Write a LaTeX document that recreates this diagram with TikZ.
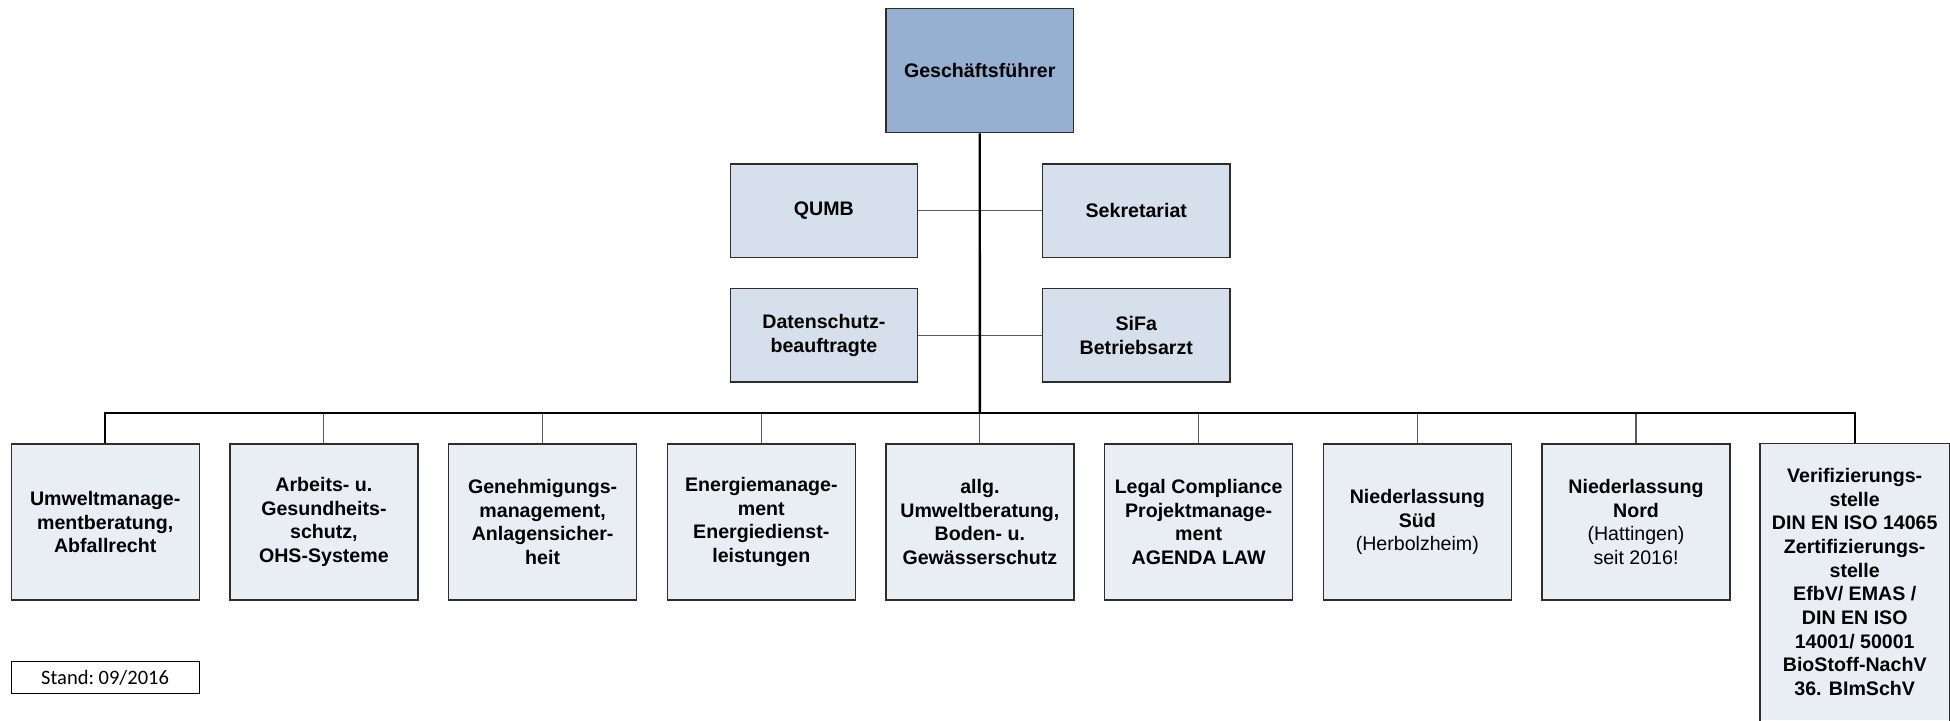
\documentclass[tikz,border=0pt]{standalone}
\usepackage{fontspec}
\setmainfont{Liberation Sans}
\newfontfamily\calibrifont{Carlito}
\definecolor{gfblue}{RGB}{149,176,208}
\definecolor{midblue}{RGB}{214,223,236}
\definecolor{lowblue}{RGB}{233,238,245}
\definecolor{edge}{RGB}{45,45,45}
\definecolor{connc}{RGB}{90,90,90}
\tikzset{
  orgbox/.style={draw=edge, line width=1.3pt, inner sep=0pt, align=center,
    font=\fontsize{19.6}{23.7}\selectfont\bfseries},
  gfbox/.style={orgbox, fill=gfblue, minimum width=187.6pt, minimum height=124.4pt},
  midbox/.style={orgbox, fill=midblue, minimum width=187.4pt, minimum height=93.3pt},
  lowbox/.style={orgbox, fill=lowblue, minimum width=188pt, minimum height=156pt},
  trunkline/.style={line width=2.4pt, black},
  conn/.style={line width=1.1pt, connc},
  staffline/.style={line width=1.1pt, connc},
}
\begin{document}
\begin{tikzpicture}[x=1pt,y=-1pt]
\useasboundingbox (0,0) rectangle (1950,720);
\fill[white] (0,0) rectangle (1950,720);

\node[gfbox] (gf) at (979.7,70.5) {Geschäftsführer};
\node[midbox] (qumb) at (823.9,210.7) {QUMB};
\node[midbox] (sek) at (1136.3,210.7) {Sekretariat};
\node[midbox] (ds) at (823.9,335.2) {Datenschutz-\\beauftragte};
\node[midbox] (sifa) at (1136.3,335.2) {SiFa\\Betriebsarzt};

\coordinate (jn) at (979.9,413);

\draw[staffline] (qumb.east) -- (sek.west);
\draw[staffline] (ds.east) -- (sifa.west);

\node[lowbox] (b1) at (105.2,522) {Umweltmanage-\\mentberatung,\\Abfallrecht};
\node[lowbox] (b2) at (323.9,522) {Arbeits- u.\\Gesundheits-\\schutz,\\OHS-Systeme};
\node[lowbox] (b3) at (542.6,522) {Genehmigungs-\\management,\\Anlagensicher-\\heit};
\node[lowbox] (b4) at (761.3,522) {Energiemanage-\\ment\\Energiedienst-\\leistungen};
\node[lowbox] (b5) at (979.9,522) {allg.\\Umweltberatung,\\Boden- u.\\Gewässerschutz};
\node[lowbox] (b6) at (1198.6,522) {Legal Compliance\\Projektmanage-\\ment\\AGENDA LAW};
\node[lowbox] (b7) at (1417.3,522) {Niederlassung\\Süd\\{\mdseries (Herbolzheim)}};
\node[lowbox] (b8) at (1636.0,522) {Niederlassung\\Nord\\{\mdseries (Hattingen)}\\{\mdseries seit 2016!}};
\node[orgbox, draw=none, fill=lowblue, minimum width=188pt, minimum height=276pt] (b9) at (1854.7,582)
  {Verifizierungs-\\stelle\\DIN EN ISO 14065\\Zertifizierungs-\\stelle\\EfbV/ EMAS /\\DIN EN ISO\\14001/ 50001\\BioStoff-NachV\\36. BImSchV};
\draw[edge, line width=1.3pt] ([yshift=-10pt]b9.south west) -- (b9.north west) -- (b9.north east) -- ([yshift=-10pt]b9.south east);

\foreach \i in {2,...,8} {
  \draw[conn] (b\i.north) -- (b\i.north |- jn);
}
\draw[trunkline] (gf.south) -- (jn);
\draw[trunkline] (b1.north) |- (jn) -| (b9.north);

\node[draw=black, line width=1pt, minimum width=188pt, minimum height=32pt, inner sep=0pt,
  font=\calibrifont\fontsize{20.5}{24}\selectfont] (stand) at (105.1,677.8) {Stand:~09/2016};
\end{tikzpicture}
\end{document}
